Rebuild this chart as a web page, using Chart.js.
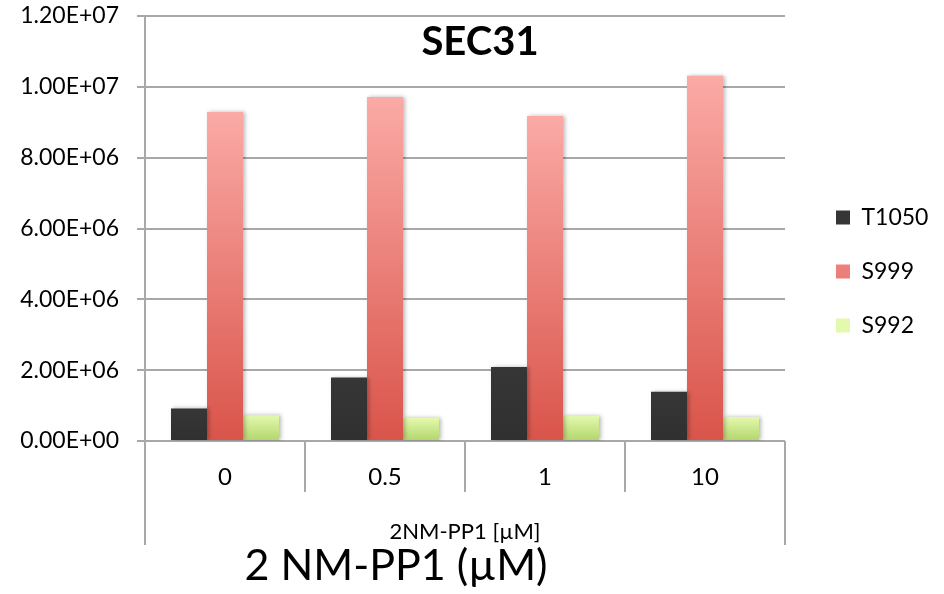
<!DOCTYPE html>
<html>
<head>
<meta charset="utf-8">
<title>SEC31</title>
<script src="https://cdn.jsdelivr.net/npm/chart.js@4.4.0/dist/chart.umd.min.js"></script>
<style>
  html, body { margin: 0; padding: 0; background: #fff; }
  #wrap { width: 944px; height: 594px; position: relative; }
</style>
</head>
<body>
<div id="wrap"><canvas id="secChart"></canvas></div>
<script>
// values
const doses = ['0', '0.5', '1', '10'];
const t1050 = [0.92e6, 1.79e6, 2.09e6, 1.39e6];
const s999 = [9.29e6, 9.71e6, 9.18e6, 10.31e6];
const s992 = [0.73e6, 0.65e6, 0.71e6, 0.68e6];
const yTicks = [0, 2e6, 4e6, 6e6, 8e6, 1e7, 1.2e7];

const FONT = 'Lato, "Noto Sans", sans-serif';
const GRID = '#a8a8a8';

function sci(v) {
    if (v === 0) return '0.00E+00';
    const e = Math.floor(Math.log10(v));
    const m = v / Math.pow(10, e);
    return m.toFixed(2) + 'E+' + String(e).padStart(2, '0');
}

// vertical gradient per bar, from its top down to the baseline
function barFill(top, bottom, flat) {
    return function (c) {
        if (c.type !== 'data' || !c.chart.chartArea) return flat;
        const y = c.chart.scales.y;
        const g = c.chart.ctx.createLinearGradient(0, y.getPixelForValue(c.raw), 0, y.getPixelForValue(0));
        g.addColorStop(0, top);
        g.addColorStop(1, bottom);
        return g;
    };
}

const extras = {
    id: 'extras',
    beforeInit(chart) {
        const lg = chart.legend;
        const fit = lg.fit.bind(lg);
        lg.fit = function () { fit(); this.width = 159; };
    },
    afterLayout(chart) {
        const lg = chart.legend;
        const w = lg.width, h = lg.height;
        lg.left = chart.chartArea.right + 20;
        lg.right = lg.left + w;
        lg.top = 175;
        lg.bottom = lg.top + h;
    },
    beforeDatasetsDraw(chart) {
        const ctx = chart.ctx;
        ctx.save();
        ctx.shadowColor = 'rgba(0,0,0,0.28)';
        ctx.shadowBlur = 4;
        ctx.shadowOffsetX = 2;
        ctx.shadowOffsetY = 0;
    },
    afterDatasetsDraw(chart) {
        chart.ctx.restore();
    },
    afterDraw(chart) {
        const ctx = chart.ctx;
        const a = chart.chartArea;
        const x = chart.scales.x;
        const step = x.getPixelForValue(1) - x.getPixelForValue(0);
        ctx.save();
        ctx.strokeStyle = GRID;
        ctx.lineWidth = 2;
        for (let i = 0; i <= doses.length; i++) {
            const px = Math.round(x.getPixelForValue(i) - step / 2);
            const outer = i === 0 || i === doses.length;
            ctx.beginPath();
            ctx.moveTo(px, a.bottom);
            ctx.lineTo(px, a.bottom + (outer ? 104 : 51));
            ctx.stroke();
        }
        ctx.fillStyle = '#000';
        ctx.textAlign = 'center';
        ctx.textBaseline = 'middle';
        ctx.font = 'bold 40px ' + FONT;
        ctx.fillText('SEC31', (a.left + a.right) / 2 + 15, a.top + 26);
        ctx.font = '43px ' + FONT;
        ctx.fillText('2 NM-PP1 (\u00b5M)', a.left + 251, a.bottom + 125);
        ctx.restore();
    }
};

document.addEventListener('DOMContentLoaded', function () {
    const ctx = document.getElementById('secChart').getContext('2d');
    const secChart = new Chart(ctx, {
        type: 'bar',
        data: {
            labels: doses,
            datasets: [
                { label: 'T1050', data: t1050, backgroundColor: barFill('#363636', '#303030', '#333333') },
                { label: 'S999', data: s999, backgroundColor: barFill('#fbaaa6', '#d9544a', '#ef8a84') },
                { label: 'S992', data: s992, backgroundColor: barFill('#e3f9ae', '#b2d56a', '#cfe98e') }
            ]
        },
        options: {
            responsive: true,
            maintainAspectRatio: false,
            animation: false,
            layout: { padding: { top: 16, right: 0, bottom: 0, left: 0 } },
            datasets: {
                bar: { categoryPercentage: 0.675, barPercentage: 1.0, borderWidth: 0 }
            },
            scales: {
                x: {
                    grid: { display: false },
                    border: { display: false },
                    ticks: { color: '#000', padding: 14, font: { family: FONT, size: 24 } },
                    title: {
                        display: true,
                        text: '2NM-PP1 [\u00b5M]',
                        color: '#000',
                        font: { family: FONT, size: 22 },
                        padding: { top: 4, bottom: 49 }
                    },
                    afterFit(scale) { scale.height = 153; }
                },
                y: {
                    min: yTicks[0],
                    max: yTicks[yTicks.length - 1],
                    grid: { color: GRID, lineWidth: 2, tickLength: 8, tickColor: GRID },
                    border: { color: GRID, width: 2 },
                    ticks: {
                        stepSize: yTicks[1] - yTicks[0],
                        color: '#000',
                        padding: 18,
                        font: { family: FONT, size: 23 },
                        callback: function (v) { return sci(v); }
                    },
                    afterFit(scale) {
                        scale.width = 145;
                        scale.paddingTop = 0;
                        scale.paddingBottom = 0;
                    }
                }
            },
            plugins: {
                legend: {
                    position: 'right',
                    align: 'start',
                    labels: {
                        color: '#000',
                        boxWidth: 14,
                        boxHeight: 14,
                        padding: 31,
                        font: { family: FONT, size: 23 }
                    }
                },
                tooltip: { enabled: false }
            }
        },
        plugins: [extras]
    });
});
</script>
</body>
</html>
